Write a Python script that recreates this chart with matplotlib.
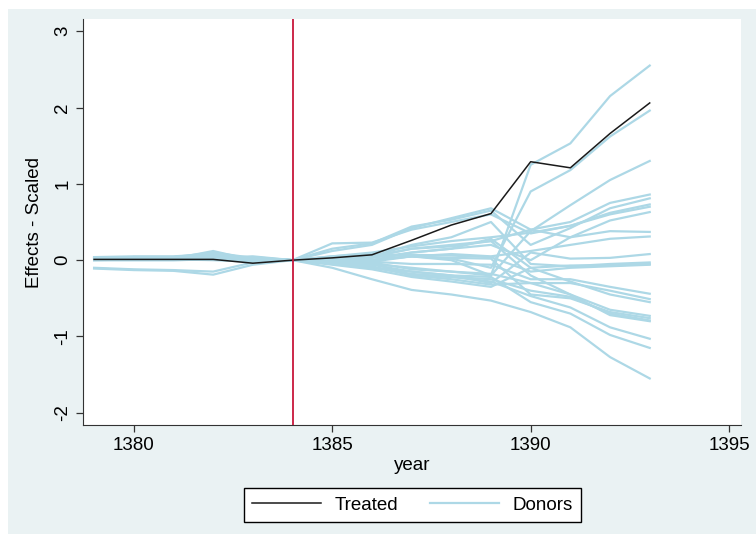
import matplotlib
matplotlib.use("Agg")
import matplotlib.pyplot as plt
from matplotlib.patches import Rectangle

plt.rcParams["font.family"] = ["Liberation Sans", "DejaVu Sans"]
plt.rcParams["axes.unicode_minus"] = False

# Data
years = list(range(1379, 1394))
treated = [0.01, 0.01, 0.01, 0.01, -0.04, 0.0, 0.03, 0.07, 0.26, 0.46, 0.61, 1.29, 1.21, 1.66, 2.06]

donors = [
	[0.03, 0.04, 0.04, 0.06, 0.01, 0, 0.05, 0.08, 0.05, 0.0, -0.2, 1.25, 1.53, 2.15, 2.55],
	[0.02, 0.03, 0.03, 0.04, 0.0, 0, 0.0, -0.02, 0.05, 0.02, -0.1, 0.9, 1.18, 1.62, 1.96],
	[0.01, 0.02, 0.02, 0.03, 0.02, 0, -0.03, -0.05, -0.1, -0.15, -0.2, 0.38, 0.72, 1.05, 1.30],
	[0.04, 0.05, 0.05, 0.08, 0.0, 0, 0.12, 0.2, 0.42, 0.55, 0.68, 0.4, 0.5, 0.75, 0.86],
	[0.03, 0.04, 0.04, 0.05, 0.02, 0, 0.15, 0.22, 0.44, 0.53, 0.65, 0.2, 0.42, 0.68, 0.81],
	[0.02, 0.03, 0.02, 0.04, 0.01, 0, 0.05, 0.1, 0.18, 0.25, 0.3, 0.36, 0.45, 0.62, 0.73],
	[0.01, 0.02, 0.02, 0.02, 0.01, 0, 0.0, 0.03, 0.1, 0.15, 0.2, 0.0, 0.3, 0.52, 0.63],
	[0.02, 0.03, 0.03, 0.05, 0.03, 0, 0.02, 0.05, 0.15, 0.2, 0.25, 0.4, 0.3, 0.38, 0.37],
	[0.0, 0.01, 0.01, 0.02, 0.0, 0, -0.02, 0.0, 0.05, 0.08, 0.05, 0.12, 0.2, 0.28, 0.31],
	[0.01, 0.02, 0.02, 0.03, 0.0, 0, -0.03, -0.06, -0.15, -0.2, -0.3, 0.1, 0.02, 0.03, 0.08],
	[0.0, 0.0, 0.0, 0.01, 0.0, 0, 0.03, 0.05, 0.2, 0.3, 0.5, -0.05, -0.08, -0.05, -0.03],
	[0.02, 0.02, 0.02, 0.03, 0.01, 0, 0.02, 0.06, 0.07, 0.06, 0.04, -0.15, -0.1, -0.08, -0.06],
	[0.03, 0.03, 0.04, 0.05, 0.03, 0, 0.0, -0.02, -0.05, -0.05, -0.06, -0.25, -0.25, -0.35, -0.44],
	[0.01, 0.01, 0.01, 0.02, 0.0, 0, -0.01, -0.03, -0.12, -0.15, -0.18, -0.3, -0.3, -0.4, -0.51],
	[0.02, 0.02, 0.02, 0.02, 0.02, 0, 0.01, 0.0, 0.1, 0.15, 0.28, -0.1, -0.28, -0.45, -0.55],
	[-0.1, -0.12, -0.13, -0.15, -0.03, 0, -0.02, -0.04, -0.2, -0.25, -0.32, -0.3, -0.45, -0.65, -0.73],
	[0.03, 0.04, 0.04, 0.1, 0.03, 0, 0.0, 0.0, 0.05, 0.03, 0.02, -0.45, -0.5, -0.68, -0.76],
	[0.01, 0.02, 0.02, 0.12, 0.0, 0, -0.04, -0.1, -0.18, -0.22, -0.25, -0.4, -0.48, -0.7, -0.79],
	[0.02, 0.02, 0.03, 0.03, 0.05, 0, 0.03, 0.04, 0.15, 0.18, 0.25, -0.2, -0.45, -0.72, -0.80],
	[0.01, 0.01, 0.01, 0.0, -0.02, 0, -0.05, -0.08, -0.2, -0.22, -0.28, -0.47, -0.62, -0.88, -1.03],
	[-0.11, -0.13, -0.14, -0.19, -0.06, 0, -0.04, -0.1, -0.15, -0.2, -0.22, -0.55, -0.7, -0.98, -1.15],
	[0.0, 0.0, 0.0, 0.01, 0.02, 0, -0.1, -0.25, -0.39, -0.45, -0.53, -0.68, -0.88, -1.27, -1.55],
	[0.03, 0.03, 0.03, 0.04, 0.04, 0, 0.22, 0.23, 0.4, 0.5, 0.6, 0.35, 0.45, 0.6, 0.7],
	[0.02, 0.02, 0.02, 0.03, -0.02, 0, -0.06, -0.12, -0.22, -0.28, -0.35, -0.1, -0.07, -0.07, -0.05],
]

treat_year = 1384
xticks = [1380, 1385, 1390, 1395]
yticks = [-2, -1, 0, 1, 2, 3]

bg = "#eaf2f3"
donor_color = "#add8e6"

fig = plt.figure(figsize=(7.56, 5.34), dpi=100, facecolor="white")
# Stata style outer band
fig.patches.append(Rectangle((8/756, 0), 1, 1 - 9/534, transform=fig.transFigure,
	facecolor=bg, edgecolor="none", zorder=-10))

ax = fig.add_axes([83/756, 1 - 425/534, (741 - 83)/756, (425 - 19)/534])
ax.set_facecolor("white")

for i, d in enumerate(donors):
	ax.plot(years, d, color=donor_color, lw=1.6, label="Donors" if i == 0 else None, zorder=2)
ax.plot(years, treated, color="#1a1a1a", lw=1.1, label="Treated", zorder=3)
ax.axvline(treat_year, color="#c8173c", lw=1.3, zorder=4)

ax.set_xlim(1378.72, 1395.3)
ax.set_ylim(-2.16, 3.16)
ax.set_xticks(xticks)
ax.set_yticks(yticks)
ax.tick_params(labelsize=13.5, length=5, width=0.9, color="#333333")
for lab in ax.get_yticklabels():
	lab.set_rotation(90)
	lab.set_va("center")
ax.spines["top"].set_visible(False)
ax.spines["right"].set_visible(False)
ax.spines["left"].set_color("#333333")
ax.spines["bottom"].set_color("#333333")
ax.set_xlabel("year", fontsize=13.5, labelpad=2)
ax.set_ylabel("Effects - Scaled", fontsize=13.5, labelpad=8)

handles, labels = ax.get_legend_handles_labels()
order = [labels.index("Treated"), labels.index("Donors")]
leg = fig.legend([handles[i] for i in order], [labels[i] for i in order],
	loc="center", bbox_to_anchor=(412.5/756, 1 - 505/534), ncol=2,
	fontsize=13.5, handlelength=3.7, handletextpad=0.7, columnspacing=1.7,
	fancybox=False, edgecolor="black", framealpha=1, borderpad=0.45)
leg.get_frame().set_linewidth(1.0)

fig.savefig("out.png", dpi=100, facecolor=fig.get_facecolor())
